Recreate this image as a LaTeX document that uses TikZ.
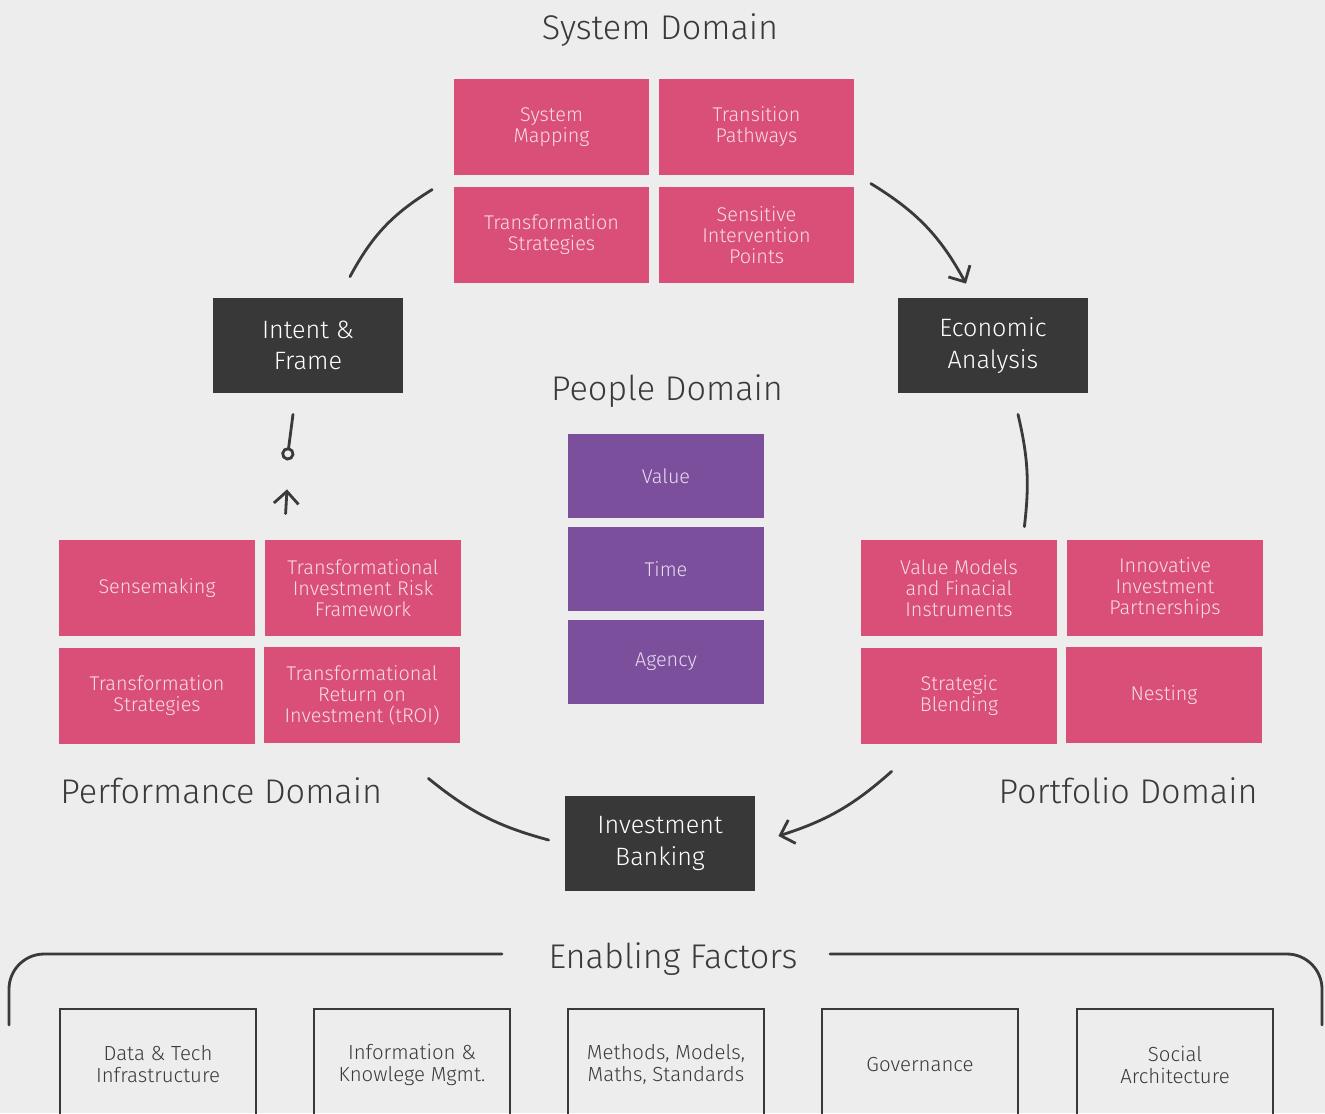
\documentclass[tikz,border=0pt]{standalone}
\usepackage{fontspec}
\IfFontExistsTF{Fira Sans Light}{\setmainfont{Fira Sans Light}}{\setmainfont{Fira Sans}}
\usepackage{tikz}
\usetikzlibrary{calc,arrows.meta}

\definecolor{bgcol}{HTML}{EDEDED}
\definecolor{pinkcol}{HTML}{D94F78}
\definecolor{pinktxt}{HTML}{F7DCE6}
\definecolor{purplecol}{HTML}{7B4F9B}
\definecolor{purpletxt}{HTML}{E6DCF0}
\definecolor{darkcol}{HTML}{383838}
\definecolor{inkcol}{HTML}{3A3A3A}

\tikzset{
every picture/.style={
line width=1.6pt
}}
\tikzset{
pinkbox/.style={fill=pinkcol, text=pinktxt, minimum width=3.92cm, minimum height=1.92cm,
  align=center, inner sep=0pt, font=\fontsize{11.3}{12}\selectfont},
purplebox/.style={fill=purplecol, text=purpletxt, minimum width=3.92cm, minimum height=1.68cm,
  inner sep=0pt, font=\fontsize{11.3}{12}\selectfont},
darkbox/.style={fill=darkcol, text=white, minimum width=3.8cm, minimum height=1.9cm,
  align=center, inner sep=0pt, font=\fontsize{14.3}{18}\selectfont},
factorbox/.style={draw=inkcol, text=inkcol, minimum width=3.92cm, minimum height=2.22cm,
  align=center, inner sep=0pt, font=\fontsize{11.6}{12.5}\selectfont},
domtitle/.style={text=inkcol, inner sep=0pt, yshift=-1.5pt, font=\fontsize{19.5}{22}\selectfont},
link/.style={draw=inkcol, line cap=round},
barb/.style={-{Straight Barb[length=7pt,width=14pt]}}
}

\begin{document}
\begin{tikzpicture}[x=0.02cm, y=-0.02cm]
  \fill[bgcol] (0,0) rectangle (1325,1113);
  \useasboundingbox (0,0) rectangle (1325,1113);

  % domain titles
  \node[domtitle] (sysdom) at (660,27) {System Domain};
  \node[domtitle] (peopledom) at (667,388) {People Domain};
  \node[domtitle, anchor=west] (perfdom) at (59,788) {Performance Domain};
  \node[domtitle, anchor=east] (portdom) at (1259,788) {Portfolio Domain};
  \node[domtitle] (enabling) at (673,956) {Enabling Factors};

  % pink boxes
  \foreach \nm/\px/\py/\txt in {
    sysmap/551.5/127/{System\\Mapping},
    transpath/756.5/127/{Transition\\Pathways},
    transstrat/551.5/235/{Transformation\\Strategies},
    sensint/756.5/235/{Sensitive\\Intervention\\Points},
    sense/157/588/{Sensemaking},
    riskfw/363/588/{Transformational\\Investment Risk\\Framework},
    perfstrat/157/696/{Transformation\\Strategies},
    troi/362/695/{Transformational\\Return on\\Investment (tROI)},
    valmod/959/588/{Value Models\\and Finacial\\Instruments},
    innov/1165/588/{Innovative\\Investment\\Partnerships},
    blend/959/696/{Strategic\\Blending},
    nest/1164/695/{Nesting}}{
    \node[pinkbox] (\nm) at (\px,\py) {\txt};
  }

  % people domain
  \foreach \nm/\py/\txt in {value/476/Value, time/569/Time, agency/662/Agency}{
    \node[purplebox] (\nm) at (666,\py) {\txt};
  }

  % dark boxes
  \node[darkbox] (intent) at (308,345.5) {Intent \&\\Frame};
  \node[darkbox] (econ) at (993,345.5) {Economic\\Analysis};
  \node[darkbox] (invbank) at (660,843.5) {Investment\\Banking};

  % enabling factors
  \foreach \nm/\px/\txt in {
    data/158/{Data \& Tech\\Infrastructure},
    info/412/{Information \&\\Knowlege Mgmt.},
    methods/666/{Methods, Models,\\Maths, Standards},
    gov/920/{Governance},
    social/1175/{Social\\Architecture}}{
    \node[factorbox] (\nm) at (\px,1064.5) {\txt};
  }
  \draw[link, rounded corners=20pt] (9,1025) -- (9,954) -- (502,954);
  \draw[link, rounded corners=20pt] (830,954) -- (1322,954) -- (1322,1025);

  % connectors
  \draw[link] ($(intent.north)+(42,-20)$) to[bend left=15] ($(transstrat.north west)+(-20,4)$);
  \draw[link, barb] ($(sensint.north east)+(15,-2)$) to[bend left=15] ($(econ.north)+(-27,-13)$);
  \draw[link] ($(econ.south)+(25,20)$) to[bend left=10] ($(valmod.north east)+(-34,-12)$);
  \draw[link, barb] ($(blend.south west)+(32,26)$) to[bend left=12] ($(invbank.east)+(22,-7.5)$);
  \draw[link] ($(troi.south east)+(-33,34)$) to[bend right=12] ($(invbank.west)+(-15,-3.5)$);
  \draw[link, -{Circle[open,length=7.5pt]}] ($(intent.south)+(-15,20)$) -- ($(intent.south)+(-21,66)$);
  \draw[link, barb] ($(riskfw.north west)+(22,-25)$) -- ($(intent.south)+(-21,95)$);
\end{tikzpicture}
\end{document}
